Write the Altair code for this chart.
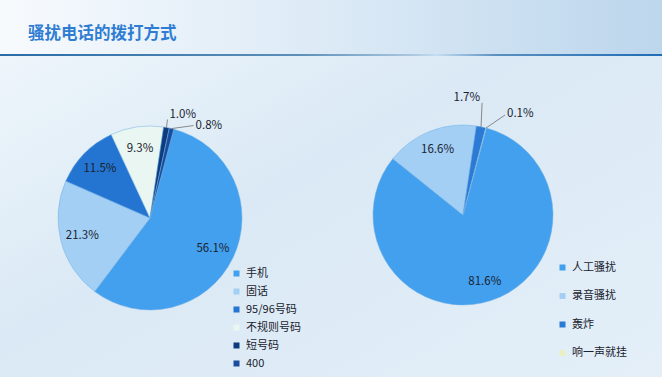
import math
import altair as alt
import pandas as pd

# ---------------- data ----------------
title_text = "骚扰电话的拨打方式"

left_cats = ["手机", "固话", "95/96号码", "不规则号码", "短号码", "400"]
left_vals = [56.1, 21.3, 11.5, 9.3, 1.0, 0.8]
left_colors = ["#42A0EE", "#A3CFF5", "#2474D2", "#EAF6F1", "#0D3C7E", "#1B4D9E"]

right_cats = ["人工骚扰", "录音骚扰", "轰炸", "响一声就挂"]
right_vals = [81.6, 16.6, 1.7, 0.1]
right_colors = ["#42A0EE", "#A3CFF5", "#2B7AD6", "#E9F0C4"]

# ---------------- layout ----------------
W, H = 662, 377
FONT = "Noto Sans CJK SC"
START = math.radians(15)
LC, LR = (150, 218), 92
RC, RR = (463, 215), 90
INNER_R = 70
TXT = "#1A232E"

theta_scale = alt.Scale(domain=[0, 100], range=[START, START + 2 * math.pi])


def frame(cats, vals):
    mids, c = [], 0.0
    for v in vals:
        mids.append(c + v / 2)
        c += v
    return pd.DataFrame({
        "cat": cats, "val": vals, "order": list(range(len(cats))),
        "mid": mids, "label": [f"{v:.1f}%" for v in vals],
    })


def pie(df, center, r, colors, legend):
    base = alt.Chart(df)
    arc = base.mark_arc(outerRadius=r, stroke="#6FAEE3", strokeWidth=0.5).encode(
        theta=alt.Theta("val:Q", stack=True, scale=theta_scale),
        order=alt.Order("order:Q"),
        color=alt.Color("cat:N", scale=alt.Scale(domain=list(df["cat"]), range=colors),
                        legend=legend),
        x=alt.value(center[0]), y=alt.value(center[1]),
    )
    txt = base.transform_filter("datum.val >= 5").mark_text(
        radius=INNER_R, fontSize=11.5, font=FONT, color=TXT
    ).encode(
        theta=alt.Theta("mid:Q", stack=None, scale=theta_scale),
        text="label:N",
        x=alt.value(center[0]), y=alt.value(center[1]),
    )
    return alt.layer(arc, txt)


ldf = frame(left_cats, left_vals)
rdf = frame(right_cats, right_vals)

leg_common = dict(orient="none", title=None, symbolType="square", symbolSize=36,
                  labelFontSize=11, labelFont=FONT, labelColor=TXT,
                  symbolStrokeWidth=0, labelOffset=4, padding=0)
left_leg = alt.Legend(legendX=231, legendY=268, rowPadding=6, **leg_common)
right_leg = alt.Legend(legendX=557, legendY=262, rowPadding=16.5, **leg_common)

left_pie = pie(ldf, LC, LR, left_colors, left_leg)
right_pie = pie(rdf, RC, RR, right_colors, right_leg)

# outside labels with leader lines, positioned from each slice's mid angle
# (pie, index) -> (leader dx, leader dy, text align, text dx, text dy)
outside = [
    (ldf, LC, LR, 4, (1, -8, "left", 2, -4)),
    (ldf, LC, LR, 5, (22, -3, "left", 2, 0)),
    (rdf, RC, RR, 2, (1, -24, "right", -2, -5)),
    (rdf, RC, RR, 3, (19, -13, "left", 2, -1)),
]
seg_rows, lab_rows = [], []
for df, c, r, i, (ldx, ldy, al, tdx, tdy) in outside:
    a = START + df["mid"][i] / 100 * 2 * math.pi
    x0 = c[0] + r * math.sin(a)
    y0 = c[1] - r * math.cos(a)
    x1, y1 = x0 + ldx, y0 + ldy
    seg_rows.append({"x": x0, "y": y0, "x2": x1, "y2": y1})
    lab_rows.append({"x": x1 + tdx, "y": y1 + tdy, "label": df["label"][i], "align": al})
seg_df = pd.DataFrame(seg_rows)
lab_df = pd.DataFrame(lab_rows)

leaders = alt.Chart(seg_df).mark_rule(color="#707070", strokeWidth=0.8).encode(
    x=alt.X("x:Q", scale=None), y=alt.Y("y:Q", scale=None),
    x2="x2:Q", y2="y2:Q",
)
out_left = alt.Chart(lab_df[lab_df["align"] == "left"]).mark_text(
    align="left", baseline="middle", fontSize=11.5, font=FONT, color=TXT
).encode(x=alt.X("x:Q", scale=None), y=alt.Y("y:Q", scale=None), text="label:N")
out_right = alt.Chart(lab_df[lab_df["align"] == "right"]).mark_text(
    align="right", baseline="middle", fontSize=11.5, font=FONT, color=TXT
).encode(x=alt.X("x:Q", scale=None), y=alt.Y("y:Q", scale=None), text="label:N")

# ---------------- decoration ----------------
one = pd.DataFrame({"a": [0]})
bg = alt.Chart(one).mark_rect(
    color=alt.LinearGradient(
        gradient="linear", x1=0, y1=0, x2=1, y2=1,
        stops=[alt.GradientStop(color="#F2F8FC", offset=0),
               alt.GradientStop(color="#DAE9F5", offset=0.45),
               alt.GradientStop(color="#E4EFF8", offset=1)])
).encode(x=alt.value(0), x2=alt.value(W), y=alt.value(0), y2=alt.value(H))

band = alt.Chart(one).mark_rect(
    color=alt.LinearGradient(
        gradient="linear", x1=0, y1=0, x2=1, y2=0,
        stops=[alt.GradientStop(color="#F7FAFD", offset=0),
               alt.GradientStop(color="#DCEAF6", offset=0.5),
               alt.GradientStop(color="#BCD6EC", offset=1)])
).encode(x=alt.value(0), x2=alt.value(W), y=alt.value(0), y2=alt.value(54))

line = alt.Chart(one).mark_rect(
    color=alt.LinearGradient(
        gradient="linear", x1=0, y1=0, x2=1, y2=0,
        stops=[alt.GradientStop(color="#2A6CA6", offset=0),
               alt.GradientStop(color="#5C8FB8", offset=0.45),
               alt.GradientStop(color="#A9C6DD", offset=0.62),
               alt.GradientStop(color="#C5DDEF", offset=0.66),
               alt.GradientStop(color="#5A90C0", offset=0.75),
               alt.GradientStop(color="#1F6DB5", offset=1)])
).encode(x=alt.value(0), x2=alt.value(W), y=alt.value(54), y2=alt.value(56))

title = alt.Chart(one).mark_text(
    text=title_text, align="left", baseline="middle", fontSize=16.5,
    fontWeight="bold", font=FONT, color="#2F7DD3"
).encode(x=alt.value(28), y=alt.value(34))

chart = alt.layer(
    bg, band, line, title, left_pie, right_pie, leaders, out_left, out_right
).resolve_scale(color="independent").properties(
    width=W, height=H, padding=0, autosize=alt.AutoSizeParams(type="none"),
    background="#E3EEF8",
).configure_view(stroke=None)

chart.save("out.html", embed_options={"renderer": "svg", "actions": False})
